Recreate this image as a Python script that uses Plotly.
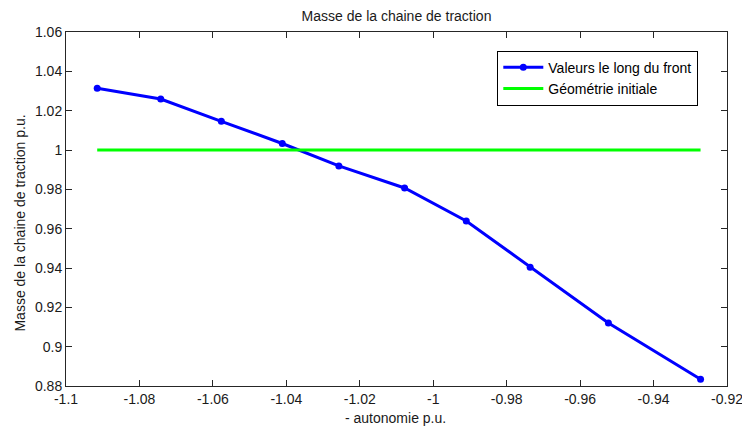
import plotly.graph_objects as go

autonomie = [-1.0915, -1.0742, -1.0577, -1.0411, -1.0257, -1.0078, -0.9910, -0.9736, -0.9523, -0.9272]
masse = [1.0314, 1.0259, 1.0146, 1.0033, 0.9919, 0.9807, 0.9639, 0.9404, 0.9120, 0.8834]
geom_x = [autonomie[0], autonomie[-1]]
geom_y = [1.0, 1.0]

x_ticks = [-1.1, -1.08, -1.06, -1.04, -1.02, -1.0, -0.98, -0.96, -0.94, -0.92]
x_labels = ["-1.1", "-1.08", "-1.06", "-1.04", "-1.02", "-1", "-0.98", "-0.96", "-0.94", "-0.92"]
y_ticks = [0.88, 0.9, 0.92, 0.94, 0.96, 0.98, 1.0, 1.02, 1.04, 1.06]
y_labels = ["0.88", "0.9", "0.92", "0.94", "0.96", "0.98", "1", "1.02", "1.04", "1.06"]

FONT = "Liberation Sans, Arial"
FS = 14
TXT = "#1a1a1a"

fig = go.Figure()
fig.add_trace(go.Scatter(
    x=autonomie, y=masse, mode="lines+markers",
    name="Valeurs le long du front",
    line=dict(color="#0000FF", width=3),
    marker=dict(color="#0000FF", size=7, symbol="circle"),
))
fig.add_trace(go.Scatter(
    x=geom_x, y=geom_y, mode="lines",
    name="Géométrie initiale",
    line=dict(color="#00FF00", width=3),
))

axis_common = dict(
    showgrid=False, zeroline=False, showline=True, linecolor="#262626", linewidth=1,
    mirror="ticks", ticks="inside", ticklen=6, tickcolor="#262626",
    tickfont=dict(family=FONT, size=FS, color=TXT),
    automargin=False, ticklabeloverflow="allow",
)

fig.update_layout(
    width=742, height=427,
    margin=dict(l=66, r=15, t=32, b=41, autoexpand=False),
    paper_bgcolor="white", plot_bgcolor="white",
    font=dict(family=FONT, size=FS, color=TXT),
    title=dict(text="Masse de la chaine de traction", x=0.5, xanchor="center",
               xref="paper", y=1 - 16 / 427, yanchor="middle", automargin=False,
               font=dict(family=FONT, size=FS, color=TXT)),
    xaxis=dict(range=[-1.1, -0.92], tickvals=x_ticks, ticktext=x_labels,
               **axis_common),
    yaxis=dict(range=[0.88, 1.06], tickvals=y_ticks, ticktext=y_labels,
               **axis_common),
    legend=dict(x=0.6525, y=0.9475, xanchor="left", yanchor="top",
                bgcolor="white", bordercolor="#000000", borderwidth=1,
                font=dict(family=FONT, size=FS, color="#000000"),
                tracegroupgap=0, itemwidth=40),
    showlegend=True,
    annotations=[
        dict(text="Masse de la chaine de traction p.u.", textangle=-90,
             xref="paper", yref="paper", x=-0.069, y=0.46,
             xanchor="center", yanchor="middle", showarrow=False,
             font=dict(family=FONT, size=FS, color=TXT)),
        dict(text="- autonomie p.u.",
             xref="paper", yref="paper", x=0.498, y=-(418 - 386) / 354,
             xanchor="center", yanchor="middle", showarrow=False,
             font=dict(family=FONT, size=FS, color=TXT)),
    ],
)

fig.write_html("out.html", config={"displayModeBar": False},
               post_script="document.body.style.margin='0';document.body.style.padding='0';")
